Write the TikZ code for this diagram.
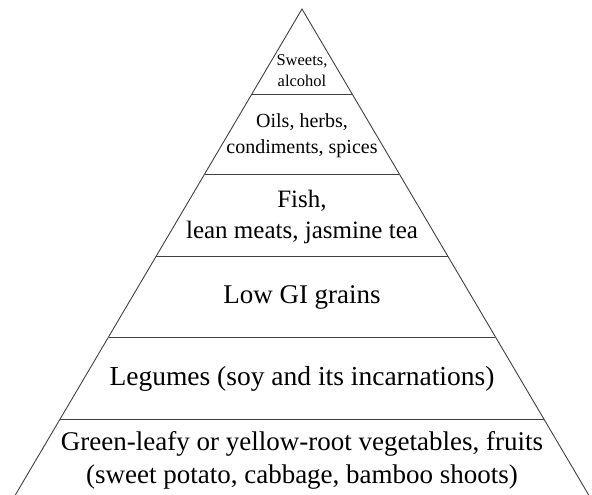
\documentclass[tikz,border=0pt]{standalone}
\usepackage{fontspec}
\setmainfont{Liberation Serif}
\usetikzlibrary{calc}
\begin{document}
\begin{tikzpicture}[x=1pt,y=-1pt,
  edge/.style={draw=black!75,line width=0.9pt},
  tier/.style={draw=black!75,line width=0.9pt},
  lbl/.style={anchor=base,inner sep=0pt,text=black}]
\useasboundingbox (0,0) rectangle (592,495);
\clip (0,0) rectangle (592,495);
\coordinate (apex) at (302,9);
\coordinate (bl) at (15.3,495);
\coordinate (br) at (588.7,495);
\draw[edge] (bl) -- (apex) -- (br);
\foreach \i/\y in {1/94,2/174,3/256,4/337,5/419}{
  \pgfmathsetmacro{\t}{(\y-9)/486}
  \coordinate (l\i) at ($(apex)!\t!(bl)$);
  \coordinate (r\i) at ($(apex)!\t!(br)$);
  \draw[tier] (l\i) -- (r\i);
}
\node[lbl,font=\fontsize{16.5}{20}\selectfont] (s1) at (302,66) {Sweets,};
\node[lbl,font=\fontsize{16.5}{20}\selectfont] (s2) at (302,87) {alcohol};
\node[lbl,font=\fontsize{20}{24}\selectfont] (o1) at (302,127) {Oils, herbs,};
\node[lbl,font=\fontsize{20}{24}\selectfont] (o2) at (302,153) {condiments, spices};
\node[lbl,font=\fontsize{25}{30}\selectfont] (f1) at (302,207) {Fish,};
\node[lbl,font=\fontsize{25}{30}\selectfont] (f2) at (302,238) {lean meats, jasmine tea};
\node[lbl,font=\fontsize{27}{32}\selectfont] (g1) at (302,303) {Low GI grains};
\node[lbl,font=\fontsize{27.5}{32}\selectfont] (lg) at (302,385) {Legumes (soy and its incarnations)};
\node[lbl,font=\fontsize{27}{32}\selectfont] (v1) at (302,450) {Green-leafy or yellow-root vegetables, fruits};
\node[lbl,font=\fontsize{27}{32}\selectfont] (v2) at (302,483) {(sweet potato, cabbage, bamboo shoots)};
\end{tikzpicture}
\end{document}
